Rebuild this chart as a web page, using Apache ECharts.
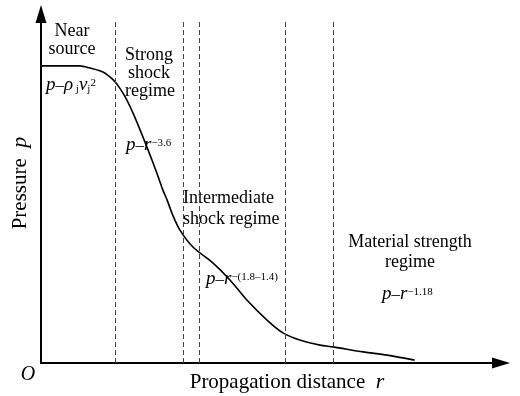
<!DOCTYPE html>
<html><head><meta charset="utf-8">
<script src="https://cdn.jsdelivr.net/npm/echarts@6/dist/echarts.min.js"></script>
<style>html,body{margin:0;padding:0;background:#fff}#c{width:520px;height:396px}</style>
</head><body><div id="c"></div>
<script>
// Curve: propagation distance r (arbitrary units) vs pressure p (arbitrary units)
const distance = [0, 8.3, 10.4, 13.2, 15.4, 16.8, 18.3, 20.0, 22.6, 24.7, 26.0, 26.9, 28.1, 29.6, 32.4, 36.7, 40.3, 43.9, 48.2, 51.6, 55.2, 59.5, 62.3, 68.7, 73.8, 79.7];
const pressure = [83.0, 83.0, 82.4, 81.3, 79.1, 76.8, 73.5, 68.7, 60.3, 53.1, 48.3, 45.5, 41.3, 37.2, 32.4, 27.9, 23.2, 17.6, 12.0, 8.4, 6.4, 5.0, 4.5, 3.1, 2.2, 0.8];
// Regime boundaries (dashed verticals)
const boundaries = [15.8, 30.3, 33.7, 52.0, 62.3];
const boundaryTop = 95.3;

const F = 'Liberation Serif, Times New Roman, serif';
const chart = echarts.init(document.getElementById('c'));
const T = (x, y, text, opts) => Object.assign({
  type: 'text', x: x, y: y,
  style: Object.assign({ text: text, font: '18px ' + F, fill: '#000', align: 'center', verticalAlign: 'middle' }, opts || {})
});
const richBase = {
  i: { fontFamily: F, fontStyle: 'italic', fontSize: 19, lineHeight: 17, verticalAlign: 'bottom' },
  n: { fontFamily: F, fontSize: 17, lineHeight: 17, verticalAlign: 'bottom' },
  sup: { fontFamily: F, fontSize: 11, lineHeight: 14, verticalAlign: 'top' },
  sub: { fontFamily: F, fontSize: 11, lineHeight: 12, verticalAlign: 'bottom' }
};
chart.setOption({
  animation: false,
  grid: { left: 41, right: 19, top: 14, bottom: 33 },
  xAxis: { type: 'value', min: 0, max: 98.1, axisLabel: { show: false }, axisTick: { show: false }, splitLine: { show: false },
    axisLine: { lineStyle: { color: '#000', width: 2 }, symbol: ['none', 'triangle'], symbolSize: [11, 18] } },
  yAxis: { type: 'value', min: 0, max: 97.5, axisLabel: { show: false }, axisTick: { show: false }, splitLine: { show: false },
    axisLine: { lineStyle: { color: '#000', width: 2 }, symbol: ['none', 'triangle'], symbolSize: [11, 18] } },
  series: [{
    type: 'line', data: distance.map((d, i) => [d, pressure[i]]), smooth: 0.3, showSymbol: false,
    lineStyle: { color: '#000', width: 1.6 },
    markLine: { silent: true, symbol: ['none', 'none'], label: { show: false },
      lineStyle: { color: '#444', width: 1, type: [5, 3] },
      data: boundaries.map(b => [{ coord: [b, 0] }, { coord: [b, boundaryTop] }]) }
  }],
  graphic: [
    T(72, 31, 'Near'), T(72, 49, 'source'),
    T(149, 55, 'Strong'), T(149, 73, 'shock'), T(150, 91, 'regime'),
    T(183, 198, 'Intermediate', { align: 'left' }), T(183, 219, 'shock regime', { align: 'left' }),
    T(410, 242, 'Material strength'), T(410, 262, 'regime'),
    { type: 'text', x: 46, y: 86, style: { text: '{i|p}{n|–}{i|ρ}{sub| j}{i|v}{sub|j}{sup|2}', rich: richBase, align: 'left', verticalAlign: 'middle' } },
    { type: 'text', x: 126, y: 146, style: { text: '{i|p}{n|–}{i|r}{sup|−3.6}', rich: richBase, align: 'left', verticalAlign: 'middle' } },
    { type: 'text', x: 206, y: 280, style: { text: '{i|p}{n|–}{i|r}{sup|−(1.8–1.4)}', rich: richBase, align: 'left', verticalAlign: 'middle' } },
    { type: 'text', x: 382, y: 295, style: { text: '{i|p}{n|–}{i|r}{sup|−1.18}', rich: richBase, align: 'left', verticalAlign: 'middle' } },
    { type: 'text', x: 20, y: 183, rotation: Math.PI / 2, style: { text: '{n|Pressure  }{i|p}', rich: { n: { fontFamily: F, fontSize: 21 }, i: { fontFamily: F, fontSize: 22, fontStyle: 'italic' } }, align: 'center', verticalAlign: 'middle' } },
    { type: 'text', x: 28, y: 375, style: { text: 'O', font: 'italic 20px ' + F, fill: '#000', align: 'center', verticalAlign: 'middle' } },
    { type: 'text', x: 287, y: 382, style: { text: '{n|Propagation distance  }{i|r}', rich: { n: { fontFamily: F, fontSize: 21 }, i: { fontFamily: F, fontSize: 22, fontStyle: 'italic' } }, align: 'center', verticalAlign: 'middle' } }
  ]
});
</script></body></html>
